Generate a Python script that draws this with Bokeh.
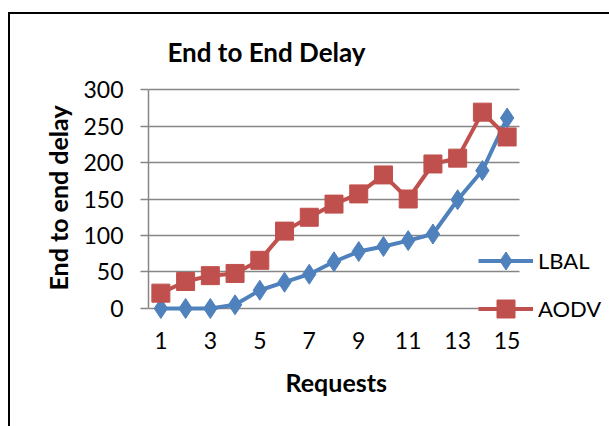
from bokeh.plotting import figure
from bokeh.models import (Range1d, FixedTicker, Label, Legend, LegendItem,
                          BoxAnnotation, InlineStyleSheet, Title)
from bokeh.embed import file_html
from bokeh.resources import INLINE

# Delay per request for the two routing protocols
requests = [1, 2, 3, 4, 5, 6, 7, 8, 9, 10, 11, 12, 13, 14, 15]
lbal = [0, 0, 0, 5, 25, 36, 47, 64, 78, 85, 93, 102, 149, 189, 261]
aodv = [21, 37, 45, 48, 66, 106, 125, 143, 157, 183, 150, 198, 206, 269, 235]
x_ticks = [1, 3, 5, 7, 9, 11, 13, 15]
y_ticks = [0, 50, 100, 150, 200, 250, 300]

BLUE = "#4F81BD"
RED = "#C0504D"
GRID = "#868686"
FONT = "Lato"

# The frame reaches the top and right edges of the canvas so that the
# title and the legend can be drawn inside it; the plotted area proper is
# 0.5..15.5 by 0..300.
p = figure(width=609, height=426, output_backend="svg", toolbar_location=None,
           title_location=None,
           x_range=Range1d(0.5, 19.139), y_range=Range1d(-30.17, 422.0),
           min_border_left=148, min_border_right=0,
           min_border_top=0, min_border_bottom=96)
p.outline_line_color = None
p.background_fill_color = "white"
p.border_fill_color = "white"

# axes
p.xaxis.ticker = FixedTicker(ticks=x_ticks)
p.yaxis.ticker = FixedTicker(ticks=y_ticks)
for ax in (p.xaxis[0], p.yaxis[0]):
    ax.axis_line_color = GRID
    ax.axis_line_width = 1.5
    ax.major_tick_line_color = GRID
    ax.major_tick_line_width = 1.5
    ax.minor_tick_line_color = None
    ax.major_label_text_font = FONT
    ax.major_label_text_font_size = "23px"
    ax.major_label_text_color = "black"
p.yaxis.bounds = (0, 300)
p.yaxis.major_tick_out = 8
p.yaxis.major_tick_in = 0
p.yaxis.major_label_standoff = 17
p.xaxis.axis_line_color = None
p.xaxis.major_tick_out = 0
p.xaxis.major_tick_in = 0
p.xaxis.major_label_standoff = 1

# axis titles, placed along the plotted area rather than the whole frame
p.add_layout(Title(text="End to end delay", align="left", offset=40,
                   standoff=16, text_font=FONT, text_font_size="25px",
                   text_font_style="bold", text_color="black"), "left")
p.add_layout(Title(text="Requests", align="left", offset=137,
                   vertical_align="top", standoff=30, text_font=FONT,
                   text_font_size="25px", text_font_style="bold",
                   text_color="black"), "below")

p.xgrid.grid_line_color = None
p.ygrid.grid_line_color = GRID
p.ygrid.grid_line_width = 1.5

# white panel to the right of the plotted area, hiding the grid there
p.add_layout(BoxAnnotation(left=15.5, fill_color="white", fill_alpha=1,
                           line_color=None))

# series
l1 = p.line(requests, lbal, line_color=BLUE, line_width=4)
m1 = p.scatter(requests, lbal, marker="diamond", size=20, fill_color=BLUE,
               line_color=BLUE)
l2 = p.line(requests, aodv, line_color=RED, line_width=4)
m2 = p.scatter(requests, aodv, marker="square", size=18, fill_color=RED,
               line_color=RED)

legend = Legend(items=[LegendItem(label="LBAL", renderers=[l1, m1]),
                       LegendItem(label="AODV", renderers=[l2, m2])],
                location=(330, -1), orientation="vertical",
                glyph_width=55, glyph_height=45, label_height=45,
                spacing=3, label_standoff=5, padding=0, margin=0,
                border_line_color=None, background_fill_alpha=0,
                label_text_font=FONT, label_text_font_size="22px",
                label_text_color="black")
p.add_layout(legend, "center")

# chart title
p.add_layout(Label(x=118, y=279, x_units="screen", y_units="screen",
                   text="End to End Delay", text_font=FONT,
                   text_font_size="26px", text_font_style="bold",
                   text_align="center", text_baseline="middle",
                   text_color="black"))

# black frame line along the top and left of the chart
p.stylesheets = [InlineStyleSheet(css="""
:host { position: relative; }
:host::after {
  content: "";
  position: absolute;
  left: 8px; top: 12px; right: -20px; bottom: -20px;
  border-left: 2.5px solid black;
  border-top: 2.5px solid black;
  pointer-events: none;
  z-index: 10;
}
""")]

open("out.html", "w").write(file_html(p, INLINE))
